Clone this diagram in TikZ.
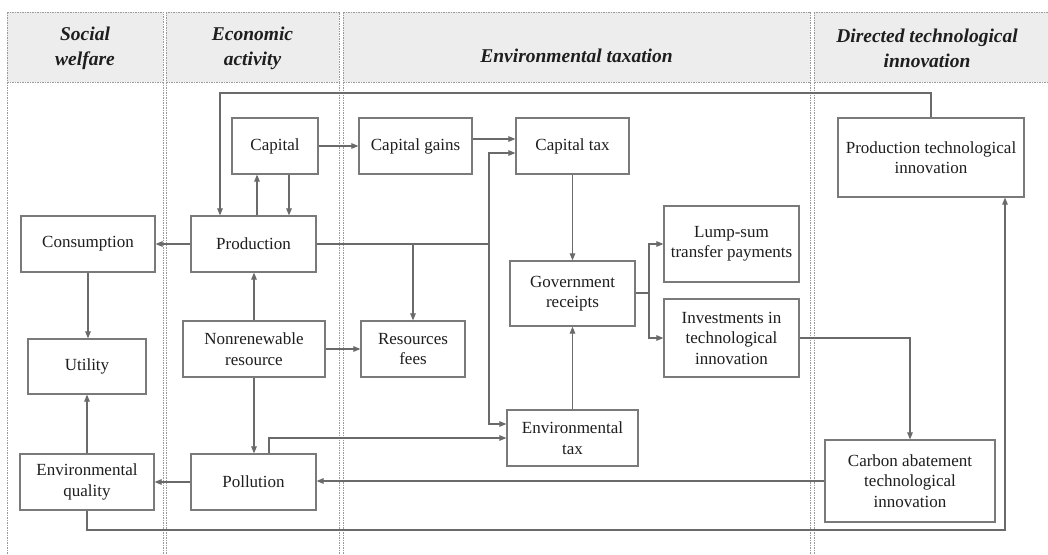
\documentclass[tikz,border=0pt]{standalone}
\usepackage{fontspec}
\setmainfont{Liberation Serif}
\usetikzlibrary{arrows.meta,calc}
\definecolor{boxc}{HTML}{7A7A7A}
\definecolor{linec}{HTML}{6A6A6A}
\definecolor{lanec}{HTML}{9A9A9A}
\definecolor{headc}{HTML}{EDEDED}
\definecolor{txtc}{HTML}{1E1E1E}
\begin{document}
\begin{tikzpicture}[x=1pt,y=-1pt,
  box/.style={draw=boxc, line width=1.2pt, text=txtc, align=center, inner sep=0pt,
    font=\fontsize{17}{20.5}\selectfont},
  head/.style={text=txtc, align=center, inner sep=0pt,
    font=\fontsize{19.5}{25}\selectfont\bfseries\itshape},
  lane/.style={draw=lanec, line width=0.7pt, dash pattern=on 1.5pt off 1pt},
  conn/.style={draw=linec, line width=1.1pt},
  arr/.style={conn, -{Triangle[length=7pt,width=5.5pt]}}]
\useasboundingbox (0,0) rectangle (1048,554);
\fill[white] (0,0) rectangle (1048,554);
% lanes
\begin{scope}
\clip (0,0) rectangle (1048,554);
\foreach \xa/\xb in {7/163,166/339,343/810,814/1052}{
  \fill[headc] (\xa,12) rectangle (\xb,82);
  \draw[lane] (\xa,12) rectangle (\xb,82);
  \draw[lane] (\xa,82) -- (\xa,570);
  \draw[lane] (\xb,82) -- (\xb,570);
}
\end{scope}
\node[head] (h1) at (85,48) {Social\\welfare};
\node[head] (h2) at (252.5,48) {Economic\\activity};
\node[head] (h3) at (576.5,56) {Environmental taxation};
\node[head] (h4) at (927,48) {Directed technological\\innovation};
% nodes
\node[box, minimum width=86pt, minimum height=56pt] (capital) at (275,146) {Capital};
\node[box, minimum width=113pt, minimum height=56pt] (cgains) at (415.5,146) {Capital gains};
\node[box, minimum width=113pt, minimum height=56pt] (ctax) at (572.5,146) {Capital tax};
\node[box, minimum width=186pt, minimum height=79pt] (pti) at (931,157.5) {Production technological\\innovation};
\node[box, minimum width=134pt, minimum height=56pt] (cons) at (88,244) {Consumption};
\node[box, minimum width=125pt, minimum height=56pt] (prod) at (253.5,244) {Production};
\node[box, minimum width=135pt, minimum height=76pt] (lump) at (731.5,244) {Lump-sum\\transfer payments};
\node[box, minimum width=125pt, minimum height=65pt] (govt) at (572.5,293.5) {Government\\receipts};
\node[box, minimum width=135pt, minimum height=78pt] (invest) at (731.5,338) {Investments in\\technological\\innovation};
\node[box, minimum width=118pt, minimum height=55pt] (util) at (87,366.5) {Utility};
\node[box, minimum width=142pt, minimum height=56pt] (nonren) at (254,349) {Nonrenewable\\resource};
\node[box, minimum width=104pt, minimum height=56pt] (resfees) at (413,349) {Resources\\fees};
\node[box, minimum width=131pt, minimum height=56pt] (envtax) at (572.5,438) {Environmental\\tax};
\node[box, minimum width=134pt, minimum height=56pt] (envq) at (87,482) {Environmental\\quality};
\node[box, minimum width=125pt, minimum height=56pt] (poll) at (253.5,482) {Pollution};
\node[box, minimum width=170pt, minimum height=82pt] (carbon) at (910,481) {Carbon abatement\\technological\\innovation};
% connectors
\coordinate (tl) at (220,93);
\draw[arr] (pti.north) |- (tl) -- (tl |- prod.north);
\draw[arr] ([xshift=14pt]capital.south) -- ([xshift=14pt]capital.south |- prod.north);
\draw[arr] ([xshift=-18pt]capital.south |- prod.north) -- ([xshift=-18pt]capital.south);
\draw[arr] (capital.east) -- (cgains.west);
\draw[arr] ([yshift=7pt]cgains.east) -- ([yshift=7pt]cgains.east -| ctax.west);
\coordinate (j1) at (489,244);
\draw[arr] (prod.east) -- (j1) |- ([yshift=-7pt]ctax.west);
\draw[arr] (j1) |- ([yshift=14pt]envtax.west);
\draw[arr] (prod.east -| resfees.north) -- (resfees.north);
\draw[arr] (prod.west) -- (cons.east);
\draw[arr] (cons.south) -- (cons.south |- util.north);
\draw[arr] (nonren.north) -- (nonren.north |- prod.south);
\draw[arr] (nonren.east) -- (resfees.west);
\draw[arr] (nonren.south) -- (nonren.south |- poll.north);
\draw[arr] ([xshift=15.5pt]poll.north) |- (envtax.west);
\draw[arr] (poll.west) -- (envq.east);
\draw[arr] (envq.north) -- (envq.north |- util.south);
\coordinate (bl) at (1005,530);
\draw[arr] (envq.south) |- (bl) -- (bl |- pti.south);
\draw[arr] (carbon.west) -- (carbon.west -| poll.east);
\draw[arr] (ctax.south) -- (govt.north);
\draw[arr] (envtax.north) -- (govt.south);
\coordinate (j2) at (649,293);
\draw[conn] (govt.east |- j2) -- (j2);
\draw[arr] (j2) |- (lump.west);
\draw[arr] (j2) |- (invest.west);
\draw[arr] (invest.east) -| (carbon.north);
\end{tikzpicture}
\end{document}
